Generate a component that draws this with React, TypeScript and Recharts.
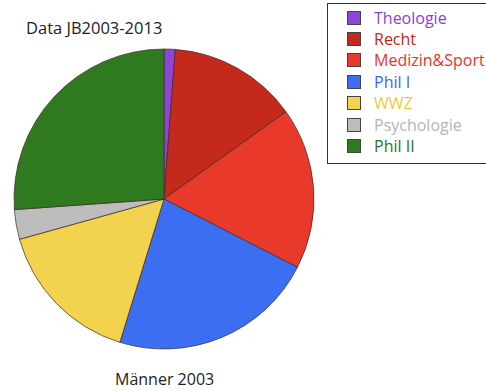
import React from "react";
import { PieChart, Pie, Cell, Legend } from "recharts";

const categories = ["Theologie", "Recht", "Medizin&Sport", "Phil I", "WWZ", "Psychologie", "Phil II"];
const values = [1.2, 13.9, 17.4, 22.2, 15.9, 3.2, 26.1];
const colors = ["#8C45D4", "#C4291C", "#E8392A", "#3C6EF2", "#F3D24E", "#BDBDBD", "#2F7A1E"];
const textColors = ["#8A3FD0", "#C0261A", "#E5342A", "#3A6AF0", "#EACB3E", "#B5B5B5", "#2C741C"];
const title = "Data JB2003-2013";
const subtitle = "Männer 2003";

const data = categories.map((name, i) => ({ name, value: values[i] }));

const font = "'Open Sans', sans-serif";

const renderLegend = () => (
  <div
    style={{
      position: "absolute",
      left: 0,
      top: 0,
      width: 170,
      height: 161,
      border: "1px solid #333",
      background: "#fff",
      boxSizing: "border-box",
      paddingTop: 3,
      paddingLeft: 19,
      fontFamily: font,
      fontSize: 16,
    }}
  >
    {categories.map((c, i) => (
      <div key={c} style={{ display: "flex", alignItems: "center", height: 21.4 }}>
        <span
          style={{
            display: "inline-block",
            width: 14,
            height: 14,
            background: colors[i],
            border: "1px solid #444",
            boxSizing: "border-box",
            marginRight: 13,
          }}
        />
        <span style={{ color: textColors[i], whiteSpace: "nowrap" }}>{c}</span>
      </div>
    ))}
  </div>
);

export default function App() {
  return (
    <div style={{ position: "absolute", left: 0, top: 0, width: 486, height: 391, overflow: "hidden", background: "#fff" }}>
      <PieChart width={486} height={391} margin={{ top: 0, right: 0, bottom: 0, left: 0 }}>
        <Pie
          data={data}
          dataKey="value"
          nameKey="name"
          cx={164}
          cy={199}
          outerRadius={150}
          startAngle={90}
          endAngle={-270}
          stroke="#3a2a20"
          strokeWidth={0.7}
          isAnimationActive={false}
        >
          {data.map((d, i) => (
            <Cell key={d.name} fill={colors[i]} />
          ))}
        </Pie>
        <Legend
          content={renderLegend}
          wrapperStyle={{ position: "absolute", left: 327, top: 3, width: 170, height: 161 }}
        />
      </PieChart>
      <div
        style={{
          position: "absolute",
          left: 26,
          top: 16,
          fontFamily: font,
          fontSize: 16.5,
          color: "#222",
          whiteSpace: "nowrap",
        }}
      >
        {title}
      </div>
      <div
        style={{
          position: "absolute",
          left: 115,
          top: 368,
          fontFamily: font,
          fontSize: 16,
          color: "#222",
          whiteSpace: "nowrap",
        }}
      >
        {subtitle}
      </div>
    </div>
  );
}
